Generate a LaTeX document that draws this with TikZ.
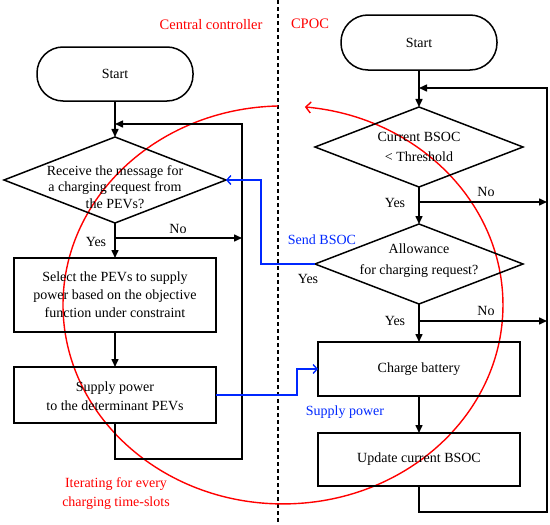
\documentclass[tikz,border=0pt]{standalone}
\usepackage{fontspec}
\setmainfont{Liberation Serif}
\usetikzlibrary{shapes.geometric,arrows.meta}
\definecolor{myred}{RGB}{255,0,0}
\definecolor{myblue}{RGB}{0,40,255}
\begin{document}
\begin{tikzpicture}[x=1pt,y=-1pt,
  every node/.style={font=\fontsize{14}{16}\selectfont},
  ln/.style={line width=1.5pt},
  arr/.style={ln,-{Triangle[length=8pt,width=7pt]}},
  barr/.style={line width=1.4pt,myblue,-{Straight Barb[length=4pt,width=9pt]}},
  term/.style={draw,ln,rounded corners=26pt,minimum width=156pt,minimum height=54pt,inner sep=0pt,outer sep=0pt},
  dia/.style={draw,ln,diamond,inner sep=0pt,outer sep=0pt},
  box/.style={draw,ln,rectangle,inner sep=0pt,outer sep=0pt,minimum width=202pt},
  lbl/.style={inner sep=0pt,align=center},
  redtxt/.style={lbl,text=myred},
  bluetxt/.style={lbl,text=myblue},
]
\useasboundingbox (0,0) rectangle (550,525);

% separator
\coordinate (septop) at (278,0);
\coordinate (sepbot) at (278,525);
\draw[line width=1.1pt,dash pattern=on 4pt off 3pt] (septop) -- (sepbot);

% red iteration loop
\coordinate (rstart) at (278,106);
\draw[myred,line width=1.4pt,-{Straight Barb[length=5pt,width=11pt]}]
  (rstart) arc[start angle=91.3,end angle=444.3,x radius=220pt,y radius=199pt];

% ---------- left (central controller) ----------
\node[redtxt,font=\fontsize{14.5}{16}\selectfont] (cc) at (211,25) {Central controller};
\node[term] (s1) at (115,74) {Start};
\node[dia,minimum width=222pt,minimum height=86pt] (d1) at (115,180) {};
\node[lbl,font=\fontsize{14}{16.5}\selectfont] (d1t) at (115,187) {Receive the message for\\a charging request from\\the PEVs?};
\node[box,minimum height=74pt] (b1) at (115,295) {};
\node[lbl,font=\fontsize{14}{18}\selectfont] (b1t) at (115,295) {Select the PEVs to supply\\power based on the objective\\function under constraint};
\node[box,minimum height=56pt] (b2) at (115,395) {};
\node[lbl,font=\fontsize{14}{19}\selectfont] (b2t) at (115,396) {Supply power\\to the determinant PEVs};

\coordinate (j1) at (115,124);
\coordinate (lt) at (242,124);
\coordinate (lb) at (242,459);
\coordinate (no1) at (242,238);

\draw[arr] (s1) -- (d1);
\draw[arr] (d1.south) -- (b1.north);
\draw[arr] (b1) -- (b2);
\draw[arr] (d1.south |- no1) -- (no1);
\draw[arr] (b2.south) |- (lb) -- (lt) -- (j1);

\node[lbl] (no1t) at (178,229) {No};
\node[lbl] (yes1t) at (96,242) {Yes};

\node[redtxt,font=\fontsize{14}{19}\selectfont] (itt) at (116,494) {Iterating for every\\charging time-slots};

% ---------- right (CPOC) ----------
\node[redtxt,font=\fontsize{14.5}{16}\selectfont] (cpoc) at (310,24) {CPOC};
\node[term,minimum width=156pt,minimum height=55pt,rounded corners=27pt] (s2) at (419,42.5) {Start};
\node[dia,minimum width=208pt,minimum height=80pt] (d2) at (419,147) {};
\node[lbl,font=\fontsize{14}{19.5}\selectfont] (d2t) at (419,147) {Current BSOC\\< Threshold};
\node[dia,minimum width=208pt,minimum height=80pt] (d3) at (419,264) {};
\node[lbl,font=\fontsize{14}{21}\selectfont] (d3t) at (419,261) {Allowance\\for charging request?};
\node[box,minimum height=54pt] (cb) at (419,369) {};
\node[lbl] (cbt) at (419,369) {Charge battery};
\node[box,minimum height=53pt] (ub) at (419,459.5) {};
\node[lbl] (ubt) at (419,459.5) {Update current BSOC};

\coordinate (j2) at (419,88);
\coordinate (rt) at (547,88);
\coordinate (rb) at (547,512);
\coordinate (no2) at (547,202);
\coordinate (no3) at (547,321);

\draw[arr] (s2) -- (d2);
\draw[arr] (d2.south) -- (d3.north);
\draw[arr] (d3.south) -- (cb.north);
\draw[arr] (cb) -- (ub);
\draw[arr] (d2.south |- no2) -- (no2);
\draw[arr] (d3.south |- no3) -- (no3);
\draw[arr] (ub.south) |- (rb) -- (rt) -- (j2);

\node[lbl] (no2t) at (486,192) {No};
\node[lbl] (yes2t) at (395,203) {Yes};
\node[lbl] (no3t) at (486,311) {No};
\node[lbl] (yes3t) at (395,321) {Yes};
\node[lbl] (yes4t) at (308,279) {Yes};

% ---------- messages ----------
\coordinate (bx) at (261,180);
\coordinate (sx) at (297,369);
\draw[barr] (d3.west) -| (bx) -- (d1.east);
\draw[barr] (b2.east) -| (sx) -- (cb.west);
\node[bluetxt] (sendt) at (322,240) {Send BSOC};
\node[bluetxt] (supt) at (345,412) {Supply power};

\end{tikzpicture}
\end{document}
